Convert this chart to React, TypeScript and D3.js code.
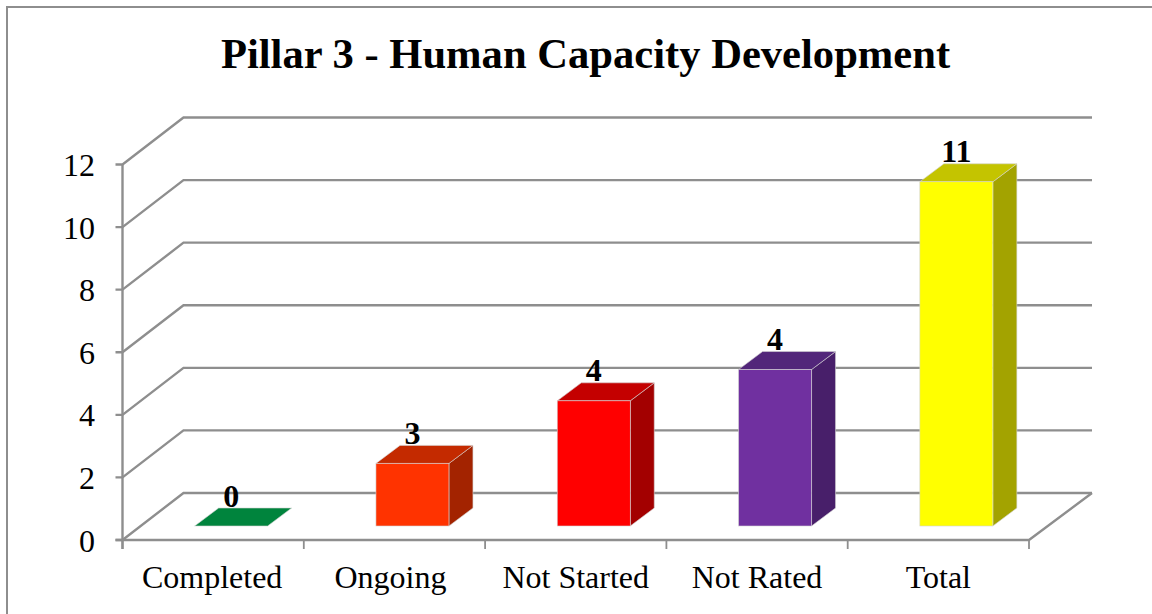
import React from "react";
import * as d3 from "d3";

const categories = ["Completed", "Ongoing", "Not Started", "Not Rated", "Total"];
const barValues = [0, 2, 4, 5, 11];
const dataLabels = ["0", "3", "4", "4", "11"];
const topColors = ["#00843D", "#C42A00", "#C40000", "#52267A", "#C4C400"];
const frontColors = ["#00843D", "#FF3300", "#FF0000", "#7030A0", "#FFFF00"];
const sideColors = ["#00843D", "#A32300", "#A30000", "#481F6A", "#A3A300"];
const yTicks = [0, 2, 4, 6, 8, 10, 12];

const GRAY = "#8E8E8E";
const EDGE = "#D4D4D4";
const FONT = "'Liberation Serif', 'Times New Roman', serif";
const x0 = 122.5, x1 = 1029, y0 = 540, y12 = 164.5;
const wallDX = 61, wallDY = -47;
const barDX = 24, barDY = -18;
const baseDX = 18, baseDY = -14;

const x = d3.scaleBand<string>().domain(categories).range([x0, x1]).paddingInner(0).paddingOuter(0);
const y = d3.scaleLinear().domain([0, 12]).range([y0, y12]);
const barWidth = 73;
const poly = (pts: [number, number][]) => (d3.line()(pts) ?? "") + "Z";
const labelNudge = (c: string) => (c === "Ongoing" ? -4 : c === "Completed" ? -1 : 0);

export default function App() {
  const edges = [...categories.map((c) => x(c) as number), x1];
  return (
    <svg width={1152} height={614} viewBox="0 0 1152 614"
      style={{ position: "absolute", left: 0, top: 0, background: "#fff" }} fontFamily={FONT}>
      <path d="M7 614V7H1152" fill="none" stroke={GRAY} strokeWidth={2} />
      <text x={585.5} y={67.5} textAnchor="middle" fontSize={42.6} fontWeight="bold" fill="#000">
        Pillar 3 - Human Capacity Development
      </text>

      {yTicks.map((t) => (
        <g key={t}>
          <path
            d={d3.line()([[x0 - 7, y(t)], [x0, y(t)], [x0 + wallDX, y(t) + wallDY], [x0 + wallDX + (x1 - x0) + 2, y(t) + wallDY]]) ?? ""}
            fill="none" stroke={GRAY} strokeWidth={2.4} />
          <text x={95} y={y(t) + 11.5} textAnchor="end" fontSize={32} fill="#000">{t}</text>
        </g>
      ))}
      <path d={`M${x0} ${y(12)}V${y0 + 9}`} fill="none" stroke={GRAY} strokeWidth={2.4} />
      <path d={`M${x0 - 7} ${y0}H${x1}L${x1 + wallDX + 2} ${y0 + wallDY}`} fill="none" stroke={GRAY} strokeWidth={2.4} />
      {edges.map((e, i) => (
        <path key={i} d={`M${e} ${y0}v9`} stroke={GRAY} strokeWidth={1.8} fill="none" />
      ))}

      {categories.map((c, i) => {
        const left = (x(c) as number) + x.bandwidth() / 2 + baseDX - barWidth / 2;
        const right = left + barWidth;
        const bottom = y(0) + baseDY;
        const top = y(barValues[i]) + baseDY;
        const v = barValues[i];
        return (
          <g key={c}>
            <text x={left + barWidth / 2} y={top + barDY - 1.5} textAnchor="middle" fontSize={32} fontWeight="bold" fill="#000">
              {dataLabels[i]}
            </text>
            {v > 0 && <path d={poly([[right, top], [right + barDX, top + barDY], [right + barDX, bottom + barDY], [right, bottom]])} fill={sideColors[i]} stroke={EDGE} strokeWidth={0.6} />}
            <path d={poly([[left, top], [left + barDX, top + barDY], [right + barDX, top + barDY], [right, top]])} fill={topColors[i]} stroke={EDGE} strokeWidth={0.6} />
            {v > 0 && <rect x={left} y={top} width={barWidth} height={bottom - top} fill={frontColors[i]} stroke={EDGE} strokeWidth={0.6} />}
            <text x={(x(c) as number) + x.bandwidth() / 2 + labelNudge(c)} y={588} textAnchor="middle" fontSize={32} fill="#000">{c}</text>
          </g>
        );
      })}
    </svg>
  );
}
